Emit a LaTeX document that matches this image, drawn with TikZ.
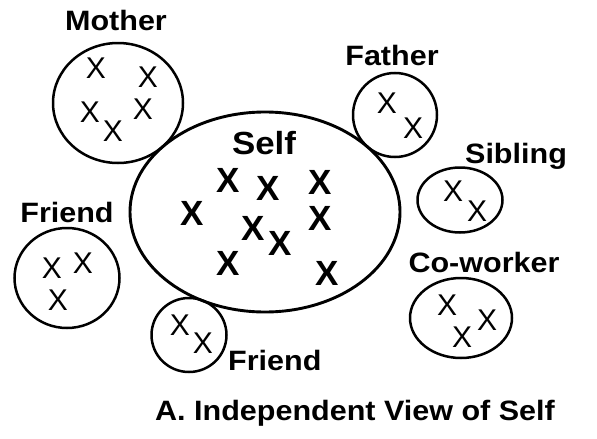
\documentclass[tikz,border=0pt]{standalone}
\usepackage{fontspec}
\setmainfont{Liberation Sans}
\newfontfamily\labfont{Liberation Sans}[FakeStretch=1.09]
\usetikzlibrary{shapes.geometric}
\begin{document}
\begin{tikzpicture}[x=1pt,y=-1pt,
  ring/.style={draw, ellipse, line width=2.5pt, inner sep=0pt},
  lab/.style={font=\labfont\fontsize{28}{30}\selectfont\bfseries, anchor=base, inner sep=0pt},
  thinx/.style={font=\fontsize{30}{30}\selectfont, inner sep=0pt},
  boldx/.style={font=\fontsize{35}{35}\selectfont\bfseries, inner sep=0pt}]
\useasboundingbox (0,0) rectangle (597,439);
% circles
\node[ring, line width=2.9pt, minimum width=270pt, minimum height=200pt] (self) at (265,212) {};
\node[ring, minimum width=130pt, minimum height=120pt] (mother) at (118,103) {};
\node[ring, minimum width=84pt, minimum height=84pt] (father) at (395,115) {};
\node[ring, minimum width=85pt, minimum height=65pt] (sibling) at (460,200) {};
\node[ring, minimum width=102pt, minimum height=80pt] (cowork) at (461,318) {};
\node[ring, minimum width=105pt, minimum height=100pt] (friendL) at (67,278) {};
\node[ring, minimum width=75pt, minimum height=74pt] (friendB) at (189,335) {};
% labels
\node[lab] (lmother) at (116,30) {Mother};
\node[lab] (lfather) at (392,65) {Father};
\node[lab] (lsibling) at (516,163) {Sibling};
\node[lab, font=\labfont\fontsize{32}{34}\selectfont\bfseries] (lself) at (264,154) {Self};
\node[lab] (lfriendL) at (67,222) {Friend};
\node[lab, anchor=base west] (lfriendB) at (228,370) {Friend};
\node[lab] (lcowork) at (484,272) {Co-worker};
\node[lab] (caption) at (355,420) {A. Independent View of Self};
% self X marks
\node[boldx] (s1) at (228,180) {X};
\node[boldx] (s2) at (268,188) {X};
\node[boldx] (s3) at (320,182) {X};
\node[boldx] (s4) at (192,213) {X};
\node[boldx] (s5) at (253,228) {X};
\node[boldx] (s6) at (280,243) {X};
\node[boldx] (s7) at (320,218) {X};
\node[boldx] (s8) at (228,263) {X};
\node[boldx] (s9) at (327,273) {X};
% mother
\node[thinx] (m1) at (96,68) {X};
\node[thinx] (m2) at (148,77) {X};
\node[thinx] (m3) at (90,112) {X};
\node[thinx] (m4) at (143,109) {X};
\node[thinx] (m5) at (113,131) {X};
% father
\node[thinx] (f1) at (387,103) {X};
\node[thinx] (f2) at (413,128) {X};
% sibling
\node[thinx] (b1) at (453,191) {X};
\node[thinx] (b2) at (477,211) {X};
% co-worker
\node[thinx] (c1) at (447,305) {X};
\node[thinx] (c2) at (487,320) {X};
\node[thinx] (c3) at (462,337) {X};
% friend left
\node[thinx] (l1) at (52,268) {X};
\node[thinx] (l2) at (83,263) {X};
\node[thinx] (l3) at (58,300) {X};
% friend bottom
\node[thinx] (d1) at (180,325) {X};
\node[thinx] (d2) at (203,343) {X};
\end{tikzpicture}
\end{document}
